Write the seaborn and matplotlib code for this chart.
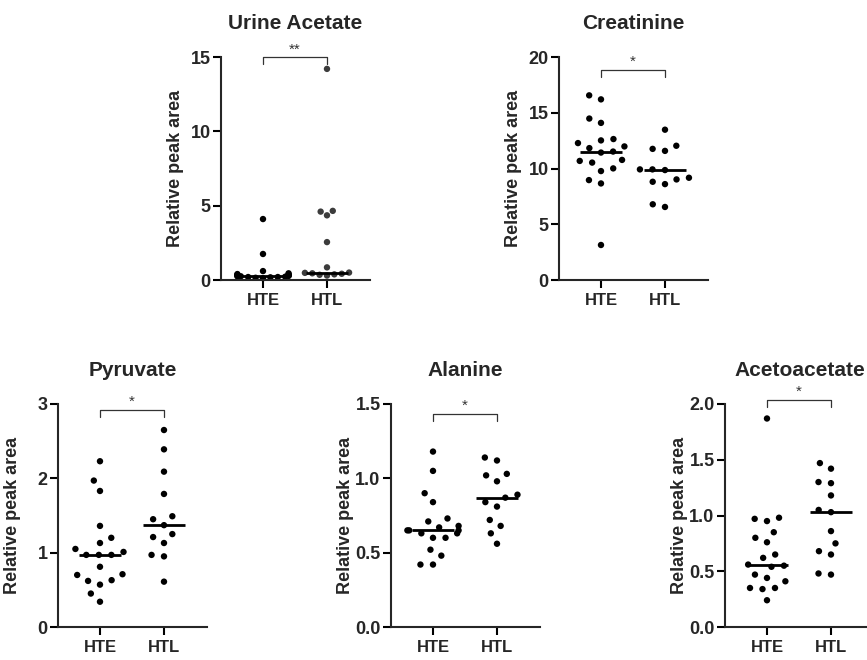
import warnings
import numpy as np
import pandas as pd
import matplotlib
matplotlib.use("Agg")
import matplotlib.pyplot as plt
import seaborn as sns

warnings.filterwarnings("ignore")

# Groups on the x axis
groups = ["HTE", "HTL"]

# Values (relative peak area)
urine_hte = [4.1, 1.75, 0.6, 0.45, 0.4, 0.38, 0.35, 0.32, 0.3, 0.3, 0.28, 0.25, 0.25, 0.22, 0.2, 0.2, 0.18, 0.15, 0.12]
urine_htl = [14.2, 4.65, 4.6, 4.35, 2.55, 0.85, 0.5, 0.48, 0.45, 0.42, 0.38, 0.35, 0.3]

creat_hte = [16.2, 16.56, 14.09, 14.48, 12.64, 11.98, 12.28, 12.52, 11.83, 11.43, 11.52,
             10.53, 10.68, 10.77, 10.01, 9.77, 8.96, 8.66, 3.14]
creat_htl = [13.48, 11.58, 11.76, 12.04, 9.86, 9.92, 9.92, 8.81, 9.02, 9.17, 8.6, 6.55, 6.79]

pyr_hte = [2.23, 1.97, 1.83, 1.36, 1.20, 1.13, 1.05, 1.01, 0.97, 0.97, 0.97, 0.81, 0.71,
           0.70, 0.63, 0.62, 0.57, 0.45, 0.34]
pyr_htl = [2.65, 2.39, 2.09, 1.79, 1.49, 1.45, 1.37, 1.25, 1.21, 1.13, 0.97, 0.95, 0.61]

ala_hte = [1.18, 1.05, 0.90, 0.84, 0.73, 0.71, 0.68, 0.67, 0.65, 0.65, 0.65, 0.63, 0.63,
           0.60, 0.60, 0.52, 0.48, 0.42, 0.42]
ala_htl = [1.14, 1.12, 1.03, 1.02, 0.98, 0.89, 0.87, 0.84, 0.81, 0.72, 0.68, 0.63, 0.56]

aceto_hte = [1.87, 0.98, 0.97, 0.95, 0.85, 0.80, 0.76, 0.65, 0.62, 0.56, 0.55, 0.54, 0.47,
             0.44, 0.41, 0.35, 0.35, 0.34, 0.24]
aceto_htl = [1.47, 1.42, 1.30, 1.29, 1.18, 1.05, 1.03, 0.86, 0.75, 0.68, 0.65, 0.48, 0.47]

titles = ["Urine Acetate", "Creatinine", "Pyruvate", "Alanine", "Acetoacetate"]
values = [(urine_hte, urine_htl), (creat_hte, creat_htl), (pyr_hte, pyr_htl),
          (ala_hte, ala_htl), (aceto_hte, aceto_htl)]
y_max = [15, 20, 3, 1.5, 2.0]
y_ticks = [[0, 5, 10, 15], [0, 5, 10, 15, 20], [0, 1, 2, 3],
           [0, 0.5, 1.0, 1.5], [0, 0.5, 1.0, 1.5, 2.0]]
tick_fmt = ["{:.0f}", "{:.0f}", "{:.0f}", "{:.1f}", "{:.1f}"]
stars = ["**", "*", "*", "*", "*"]
bracket_y = [15, 18.85, 2.92, 1.433, 2.04]
htl_colors = ["#3c3c3c", "black", "black", "black", "black"]

sns.set_style("ticks")
plt.rcParams["font.family"] = ["Liberation Sans", "DejaVu Sans"]
plt.rcParams["font.weight"] = "bold"

W, H = 867, 660
aw, ah = 149, 223
# top-left corner of each axes in pixels
boxes = [(221, 57), (559, 57), (58, 404), (391, 404), (725, 404)]
# extra invisible edge -> spacing between swarm points
gaps = [0.5, 4.0, 4.0, 4.0, 4.0]

fig = plt.figure(figsize=(W / 100, H / 100), dpi=100)

for i, name in enumerate(titles):
    left, top = boxes[i]
    ax = fig.add_axes([left / W, 1 - (top + ah) / H, aw / W, ah / H])
    hte, htl = values[i]
    df = pd.DataFrame({"group": ["HTE"] * len(hte) + ["HTL"] * len(htl),
                       "value": hte + htl})

    sns.swarmplot(data=df, x="group", y="value", hue="group", order=groups,
                  hue_order=groups, palette=["black", htl_colors[i]], size=4.6,
                  linewidth=gaps[i], legend=False, ax=ax)
    for c in ax.collections:
        c.set_edgecolor("none")
        c.set_clip_on(False)

    # median lines
    meds = df.groupby("group")["value"].median()
    for j, g in enumerate(groups):
        ax.plot([j - 0.335, j + 0.335], [meds[g], meds[g]], color="black", lw=2,
                solid_capstyle="butt", zorder=4)

    # significance bracket
    yb = bracket_y[i]
    d = 0.032 * y_max[i]
    ax.plot([0, 0, 1, 1], [yb - d, yb, yb, yb - d], color="#333333", lw=0.9,
            clip_on=False)
    ax.annotate(stars[i], (0.5, yb), xytext=(0, 0.5), textcoords="offset points",
                ha="center", va="bottom", fontsize=11, fontweight="normal",
                color="#333333", annotation_clip=False)

    ax.set_xlim(-0.656, 1.672)
    ax.set_ylim(0, y_max[i])
    ax.set_yticks(y_ticks[i])
    ax.set_yticklabels([tick_fmt[i].format(t) for t in y_ticks[i]])
    ax.set_xlabel("")
    ax.set_ylabel("Relative peak area", fontsize=13, fontweight="bold")
    ax.yaxis.set_label_coords(-0.245, 0.5)
    ax.set_title(name, fontsize=15, fontweight="bold", pad=20.5)

    sns.despine(ax=ax)
    for s in ["left", "bottom"]:
        ax.spines[s].set_linewidth(1.5)
        ax.spines[s].set_zorder(5)
    ax.tick_params(axis="both", length=6, width=1.5, color="black")
    ax.tick_params(axis="y", labelsize=13, pad=1.5)
    ax.tick_params(axis="x", labelsize=12, pad=3)

fig.savefig("out.png", dpi=100)
